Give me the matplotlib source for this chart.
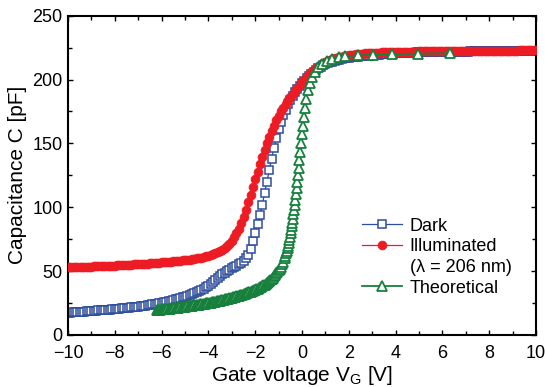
import matplotlib
matplotlib.use("Agg")
import matplotlib.pyplot as plt
from matplotlib.lines import Line2D
from matplotlib.ticker import MultipleLocator

plt.rcParams["font.family"] = ["Liberation Sans", "DejaVu Sans"]
plt.rcParams["mathtext.fontset"] = "custom"
plt.rcParams["mathtext.rm"] = "Liberation Sans"

# Gate voltage sweep used for the measured curves [V]
gate_v = [
    -10.0, -9.9, -9.8, -9.7, -9.6, -9.5, -9.4, -9.3, -9.2, -9.1,
    -9.0, -8.9, -8.8, -8.7, -8.6, -8.5, -8.4, -8.3, -8.2, -8.1,
    -8.0, -7.9, -7.8, -7.7, -7.6, -7.5, -7.4, -7.3, -7.2, -7.1,
    -7.0, -6.9, -6.8, -6.7, -6.6, -6.5, -6.4, -6.3, -6.2, -6.1,
    -6.0, -5.9, -5.8, -5.7, -5.6, -5.5, -5.4, -5.3, -5.2, -5.1,
    -5.0, -4.9, -4.8, -4.7, -4.6, -4.5, -4.4, -4.3, -4.2, -4.1,
    -4.0, -3.9, -3.8, -3.7, -3.6, -3.5, -3.4, -3.3, -3.2, -3.1,
    -3.0, -2.9, -2.8, -2.7, -2.6, -2.5, -2.4, -2.3, -2.2, -2.1,
    -2.0, -1.9, -1.8, -1.7, -1.6, -1.5, -1.4, -1.3, -1.2, -1.1,
    -1.0, -0.9, -0.8, -0.7, -0.6, -0.5, -0.4, -0.3, -0.2, -0.1,
    0.0, 0.1, 0.2, 0.3, 0.4, 0.5, 0.6, 0.7, 0.8, 0.9,
    1.0, 1.1, 1.2, 1.3, 1.4, 1.5, 1.6, 1.7, 1.8, 1.9,
    2.0, 2.1, 2.2, 2.3, 2.4, 2.5, 2.6, 2.7, 2.8, 2.9,
    3.0, 3.1, 3.2, 3.3, 3.4, 3.5, 3.6, 3.7, 3.8, 3.9,
    4.0, 4.1, 4.2, 4.3, 4.4, 4.5, 4.6, 4.7, 4.8, 4.9,
    5.0, 5.1, 5.2, 5.3, 5.4, 5.5, 5.6, 5.7, 5.8, 5.9,
    6.0, 6.1, 6.2, 6.3, 6.4, 6.5, 6.6, 6.7, 6.8, 6.9,
    7.0, 7.1, 7.2, 7.3, 7.4, 7.5, 7.6, 7.7, 7.8, 7.9,
    8.0, 8.1, 8.2, 8.3, 8.4, 8.5, 8.6, 8.7, 8.8, 8.9,
    9.0, 9.1, 9.2, 9.3, 9.4, 9.5, 9.6, 9.7, 9.8, 9.9,
    10.0,
]

# Dark capacitance [pF]
dark_c = [
    17.5, 17.6, 17.7, 17.8, 18.0, 18.1, 18.2, 18.3, 18.5, 18.6,
    18.8, 18.9, 19.0, 19.2, 19.3, 19.5, 19.6, 19.8, 19.9, 20.1,
    20.2, 20.4, 20.6, 20.8, 21.0, 21.2, 21.4, 21.6, 21.8, 22.0,
    22.3, 22.5, 22.8, 23.0, 23.3, 23.6, 23.9, 24.2, 24.5, 24.9,
    25.3, 25.7, 26.1, 26.5, 26.9, 27.4, 27.9, 28.4, 28.9, 29.4,
    30.0, 30.6, 31.2, 31.9, 32.6, 33.4, 34.2, 35.1, 36.1, 37.2,
    38.5, 39.9, 41.3, 42.8, 44.4, 46.0, 47.4, 48.7, 49.9, 51.1,
    52.3, 53.3, 54.3, 55.4, 56.6, 58.0, 60.0, 63.0, 67.5, 73.5,
    80.0, 87.0, 94.0, 102.0, 111.0, 120.0, 129.0, 138.0, 146.5, 154.5,
    161.5, 167.0, 172.0, 176.5, 180.5, 184.0, 187.0, 190.0, 192.5, 195.0,
    197.0, 199.0, 201.0, 203.0, 204.7, 206.3, 207.7, 209.0, 210.2, 211.2,
    212.0, 212.8, 213.5, 214.1, 214.7, 215.2, 215.7, 216.1, 216.5, 216.8,
    217.1, 217.4, 217.6, 217.8, 218.0, 218.2, 218.4, 218.5, 218.7, 218.8,
    219.0, 219.2, 219.4, 219.6, 219.8, 220.0, 220.1, 220.2, 220.3, 220.4,
    220.5, 220.6, 220.7, 220.8, 220.9, 221.0, 221.0, 221.1, 221.1, 221.2,
    221.2, 221.3, 221.3, 221.4, 221.4, 221.5, 221.5, 221.5, 221.6, 221.6,
    221.6, 221.7, 221.7, 221.7, 221.8, 221.8, 221.8, 221.8, 221.9, 221.9,
    221.9, 221.9, 222.0, 222.0, 222.0, 222.0, 222.0, 222.1, 222.1, 222.1,
    222.1, 222.1, 222.1, 222.2, 222.2, 222.2, 222.2, 222.2, 222.2, 222.3,
    222.3, 222.3, 222.3, 222.3, 222.3, 222.3, 222.4, 222.4, 222.4, 222.4,
    222.4,
]

# Illuminated (lambda = 206 nm) capacitance [pF]
illum_c = [
    53.0, 53.1, 53.1, 53.2, 53.2, 53.3, 53.4, 53.4, 53.5, 53.5,
    53.6, 53.7, 53.7, 53.8, 53.9, 54.0, 54.0, 54.1, 54.2, 54.3,
    54.4, 54.5, 54.6, 54.7, 54.8, 54.9, 55.0, 55.1, 55.2, 55.3,
    55.4, 55.5, 55.7, 55.8, 55.9, 56.0, 56.2, 56.3, 56.5, 56.6,
    56.8, 57.0, 57.1, 57.3, 57.5, 57.6, 57.8, 58.0, 58.2, 58.4,
    58.6, 58.8, 59.1, 59.3, 59.6, 59.9, 60.2, 60.6, 61.0, 61.5,
    62.0, 62.6, 63.2, 63.9, 64.7, 65.6, 66.7, 68.0, 69.6, 71.5,
    73.8, 76.5, 79.6, 83.2, 87.4, 92.4, 98.0, 104.0, 110.0, 116.0,
    122.0, 128.0, 134.0, 139.5, 145.0, 150.0, 155.0, 159.5, 164.0, 168.0,
    171.5, 175.0, 178.0, 181.0, 183.8, 186.4, 188.9, 191.3, 193.6, 195.8,
    197.9, 200.0, 202.0, 204.0, 205.7, 207.3, 208.8, 210.2, 211.4, 212.5,
    213.5, 214.4, 215.2, 215.9, 216.5, 217.0, 217.5, 217.9, 218.3, 218.7,
    219.0, 219.3, 219.6, 219.8, 220.0, 220.2, 220.4, 220.5, 220.6, 220.7,
    220.8, 220.9, 221.0, 221.1, 221.2, 221.3, 221.3, 221.4, 221.5, 221.5,
    221.6, 221.6, 221.7, 221.7, 221.8, 221.8, 221.8, 221.9, 221.9, 221.9,
    222.0, 222.0, 222.0, 222.0, 222.1, 222.1, 222.1, 222.1, 222.2, 222.2,
    222.2, 222.2, 222.2, 222.3, 222.3, 222.3, 222.3, 222.3, 222.4, 222.4,
    222.4, 222.4, 222.4, 222.4, 222.5, 222.5, 222.5, 222.5, 222.5, 222.5,
    222.6, 222.6, 222.6, 222.6, 222.6, 222.6, 222.7, 222.7, 222.7, 222.7,
    222.7, 222.7, 222.7, 222.8, 222.8, 222.8, 222.8, 222.8, 222.8, 222.8,
    222.9,
]

# Theoretical curve [V], [pF]
theo_v = [
    -6.2, -6.15, -6.1, -6.05, -6.0, -5.95, -5.9, -5.85, -5.8, -5.75,
    -5.7, -5.65, -5.6, -5.55, -5.5, -5.45, -5.4, -5.35, -5.3, -5.25,
    -5.2, -5.15, -5.1, -5.05, -5.0, -4.95, -4.9, -4.85, -4.8, -4.75,
    -4.7, -4.65, -4.6, -4.55, -4.5, -4.45, -4.4, -4.35, -4.3, -4.25,
    -4.2, -4.15, -4.1, -4.05, -4.0, -3.95, -3.9, -3.85, -3.8, -3.75,
    -3.7, -3.65, -3.6, -3.55, -3.5, -3.45, -3.4, -3.35, -3.3, -3.25,
    -3.2, -3.15, -3.1, -3.05, -3.0, -2.95, -2.9, -2.85, -2.8, -2.75,
    -2.7, -2.65, -2.6, -2.55, -2.5, -2.45, -2.4, -2.35, -2.3, -2.25,
    -2.2, -2.15, -2.1, -2.05, -2.0, -1.95, -1.9, -1.85, -1.8, -1.75,
    -1.7, -1.65, -1.6, -1.55, -1.5, -1.45, -1.4, -1.35, -1.3, -1.25,
    -1.2, -1.15, -1.1, -1.05, -1.0, -0.95, -0.9, -0.85, -0.8,
    -0.74, -0.71, -0.68, -0.65, -0.62, -0.59, -0.565, -0.54, -0.515, -0.49,
    -0.47, -0.445, -0.42, -0.395, -0.37, -0.345, -0.315, -0.29, -0.26, -0.235,
    -0.205, -0.175, -0.145, -0.11, -0.075, -0.04, 0.0, 0.04, 0.085, 0.135,
    0.19, 0.26, 0.34, 0.44, 0.56, 0.70, 0.87, 1.07, 1.30, 1.56,
    1.85, 2.40, 3.04, 3.85, 4.94, 6.32,
]
theo_c = [
    19.5, 19.6, 19.7, 19.85, 20.0, 20.1, 20.2, 20.3, 20.4, 20.5,
    20.6, 20.7, 20.8, 20.95, 21.1, 21.2, 21.3, 21.4, 21.5, 21.6,
    21.7, 21.85, 22.0, 22.1, 22.2, 22.35, 22.5, 22.6, 22.7, 22.85,
    23.0, 23.1, 23.2, 23.35, 23.5, 23.65, 23.8, 23.95, 24.1, 24.25,
    24.4, 24.55, 24.7, 24.85, 25.0, 25.2, 25.4, 25.6, 25.8, 26.0,
    26.2, 26.4, 26.6, 26.8, 27.0, 27.2, 27.4, 27.65, 27.9, 28.1,
    28.3, 28.55, 28.8, 29.05, 29.3, 29.55, 29.8, 30.05, 30.3, 30.6,
    30.9, 31.15, 31.4, 31.7, 32.0, 32.35, 32.7, 33.0, 33.3, 33.65,
    34.0, 34.35, 34.7, 35.1, 35.5, 35.9, 36.3, 36.75, 37.2, 37.75,
    38.3, 38.9, 39.5, 40.15, 40.8, 41.55, 42.3, 43.15, 44.0, 45.0,
    46.0, 47.1, 48.2, 49.3, 50.5, 52.0, 53.5, 55.5, 57.5,
    60.0, 62.0, 64.0, 66.0, 68.0, 70.0, 72.0, 74.5, 77.0, 79.5,
    82.0, 85.0, 88.0, 91.0, 94.5, 98.0, 102.0, 106.0, 110.5, 115.0,
    120.0, 125.5, 131.0, 137.0, 143.5, 150.0, 157.0, 164.0, 171.0, 178.0,
    185.0, 191.5, 197.0, 202.0, 206.0, 209.5, 212.5, 214.8, 216.4, 217.5,
    218.3, 218.9, 219.4, 219.9, 220.3, 220.6,
]

blue = "#2d4d9d"
red = "#ed1c24"
green = "#17803d"

fig = plt.figure(figsize=(5.45, 3.87), dpi=100)
ax = fig.add_axes([0.1248, 0.1344, 0.8587, 0.8250])

dark_line, = ax.plot(gate_v, dark_c, color=blue, lw=0.9, marker="s", ms=5.6,
                     mfc="white", mec=blue, mew=1.1, zorder=2)
illum_line, = ax.plot(gate_v, illum_c, color=red, lw=0.9, marker="o", ms=6.4,
                      mfc=red, mec=red, mew=0.5, zorder=3)
theo_line, = ax.plot(theo_v, theo_c, color=green, lw=1.3, marker="^", ms=6.6,
                     mfc="white", mec=green, mew=1.3, zorder=4)

ax.set_xlim(-10, 10)
ax.set_ylim(0, 250)
ax.xaxis.set_major_locator(MultipleLocator(2))
ax.xaxis.set_minor_locator(MultipleLocator(1))
ax.yaxis.set_major_locator(MultipleLocator(50))
ax.yaxis.set_minor_locator(MultipleLocator(25))
ax.tick_params(which="both", direction="in", top=True, right=True,
               width=1.0, labelsize=13)
ax.tick_params(axis="x", which="both", pad=7)
ax.tick_params(axis="y", which="both", pad=4)
ax.tick_params(which="major", length=3.5)
ax.tick_params(which="minor", length=2.8)
for s in ax.spines.values():
    s.set_linewidth(1.5)

ax.set_xlabel(r"Gate voltage V$_\mathrm{G}$ [V]", fontsize=15, labelpad=2)
ax.set_ylabel("Capacitance C [pF]", fontsize=15, labelpad=4)

blank = Line2D([], [], linestyle="none", marker=None)
ax.legend([dark_line, illum_line, blank, theo_line],
          ["Dark", "Illuminated", "(\u03bb = 206 nm)", "Theoretical"],
          loc="upper left", bbox_to_anchor=(0.628, 0.367), frameon=False,
          fontsize=13, numpoints=1, handlelength=2.2, handletextpad=0.45,
          labelspacing=0.2, borderpad=0, borderaxespad=0)

fig.savefig("out.png", dpi=100)
